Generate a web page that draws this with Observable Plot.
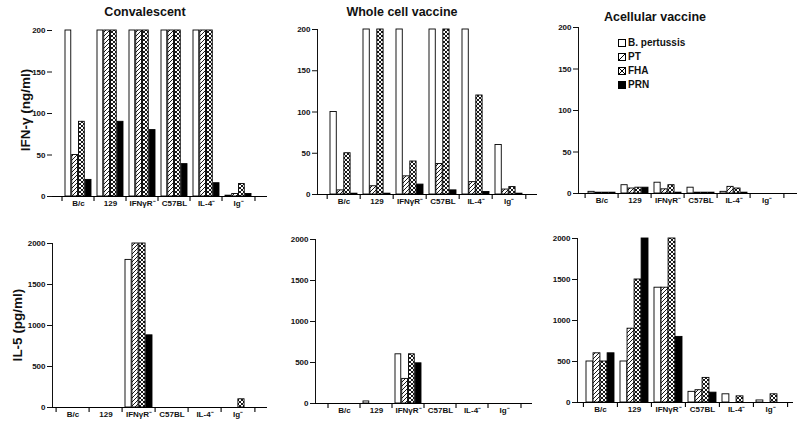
<!DOCTYPE html>
<html><head><meta charset="utf-8">
<script src="https://cdn.jsdelivr.net/npm/d3@7"></script>
<script src="https://cdn.jsdelivr.net/npm/@observablehq/plot@0.6"></script>
<style>
body{margin:0;background:#fff;width:800px;height:424px;position:relative;overflow:hidden;font-family:"Liberation Sans",Arial,sans-serif;color:#111;}
.panel{position:absolute;}
.title{position:absolute;font-weight:bold;font-size:12.5px;transform:translate(-50%,-50%);white-space:nowrap;}
.ylab{position:absolute;font-weight:bold;font-size:13.5px;transform:translate(-50%,-50%) rotate(-90deg);white-space:nowrap;}
.leg{position:absolute;font-weight:bold;font-size:10px;white-space:nowrap;display:flex;align-items:center;gap:2px;}
</style></head><body>
<svg width="0" height="0" style="position:absolute">
<defs>
<pattern id="hatch" patternUnits="userSpaceOnUse" width="4" height="4">
<rect width="4" height="4" fill="white"/>
<path d="M-1,1 L1,-1 M0,4 L4,0 M3,5 L5,3" stroke="black" stroke-width="0.9"/>
</pattern>
<pattern id="cross" patternUnits="userSpaceOnUse" width="4" height="4">
<rect width="4" height="4" fill="white"/>
<path d="M-1,1 L1,-1 M0,4 L4,0 M3,5 L5,3 M-1,3 L1,5 M0,0 L4,4 M3,-1 L5,1" stroke="black" stroke-width="0.9"/>
</pattern>
</defs></svg>
<script>
// ---- data ----
const categories = ["B/c", "129", "IFNγR⁻", "C57BL", "IL-4⁻", "Ig⁻"];
const series = ["B. pertussis", "PT", "FHA", "PRN"];
const panelTitles = ["Convalescent", "Whole cell vaccine", "Acellular vaccine"];
const rowLabels = ["IFN-γ (ng/ml)", "IL-5 (pg/ml)"];
const ifnTicks = [0, 50, 100, 150, 200];
const il5Ticks = [0, 500, 1000, 1500, 2000];
// rows = categories, columns = series (B. pertussis, PT, FHA, PRN)
const convalescentIFN = [[200, 50, 90, 20], [200, 200, 200, 90], [200, 200, 200, 80], [200, 200, 200, 39], [200, 200, 200, 16], [1, 3, 15, 3]];
const wholeCellIFN = [[100, 5, 50, 1], [200, 10, 200, 1], [200, 22, 40, 12], [200, 37, 200, 5], [200, 15, 120, 3], [60, 6, 9, 1]];
const acellularIFN = [[2, 1, 1, 1], [10, 6, 7, 7], [13, 5, 10, 1], [7, 1, 1, 1], [2, 8, 6, 1], [0, 0, 0, 0]];
const convalescentIL5 = [[0, 0, 0, 0], [0, 0, 0, 0], [1800, 2000, 2000, 880], [0, 0, 0, 0], [0, 0, 0, 0], [0, 0, 100, 0]];
const wholeCellIL5 = [[0, 0, 0, 0], [25, 0, 0, 0], [600, 300, 600, 490], [0, 0, 0, 0], [0, 0, 0, 0], [0, 0, 0, 0]];
const acellularIL5 = [[500, 600, 500, 600], [500, 900, 1500, 2000], [1400, 1400, 2000, 800], [130, 150, 300, 120], [100, 0, 75, 0], [25, 0, 100, 0]];

const fills = ["white", "url(#hatch)", "url(#cross)", "black"];

const panels = [
  {values: convalescentIFN, ticks: ifnTicks, left: 0, top: 0, width: 270, height: 210, mt: 30, mb: 14, ml: 52, mr: 3, po: 0.26, align: 0.45, yLine: false},
  {values: wholeCellIFN, ticks: ifnTicks, left: 270, top: 0, width: 270, height: 210, mt: 29, mb: 16, ml: 47, mr: 3, po: 0.27, align: 0.45, yLine: true},
  {values: acellularIFN, ticks: ifnTicks, left: 530, top: 0, width: 270, height: 210, mt: 27, mb: 17, ml: 48, mr: 3, po: 0.24, align: 0.31, yLine: true},
  {values: convalescentIL5, ticks: il5Ticks, left: 0, top: 210, width: 270, height: 214, mt: 33, mb: 17, ml: 52, mr: 3, po: 0.18, align: 0.25, yLine: true},
  {values: wholeCellIL5, ticks: il5Ticks, left: 270, top: 210, width: 270, height: 214, mt: 29, mb: 21, ml: 45, mr: 8, po: 0.29, align: 0.5, yLine: true},
  {values: acellularIL5, ticks: il5Ticks, left: 530, top: 210, width: 270, height: 214, mt: 28, mb: 22, ml: 47, mr: 7, po: 0.16, align: 0.5, yLine: true}
];

function makePanel(p) {
  const data = categories.flatMap((c, i) => series.map((s, j) => ({cat: c, series: s, j, value: p.values[i][j]})));
  const innerW = p.width - p.ml - p.mr;
  const innerH = p.height - p.mt - p.mb;
  const bw = innerW / (categories.length + 2 * p.po);
  const pad = 3;
  const barW = (bw - 2 * pad) / series.length;
  const yMax = p.ticks[p.ticks.length - 1];
  const tickDown = -5 * yMax / innerH; // 5px below the baseline, in y units
  const marks = series.map((s, j) => Plot.barY(data.filter(d => d.j === j && d.value > 0), {
    x: "cat", y: "value", fill: fills[j], stroke: "black", strokeWidth: 0.9,
    insetLeft: pad + j * barW, insetRight: bw - pad - (j + 1) * barW
  }));
  marks.push(Plot.ruleY([0], {stroke: "black", strokeWidth: 1.2}));
  marks.push(Plot.ruleX(categories, {x: d => d, dx: -bw / 2, y1: () => 0, y2: () => tickDown, stroke: "black", strokeWidth: 1.1}));
  marks.push(Plot.ruleX(categories.slice(-1), {x: d => d, dx: bw / 2, y1: () => 0, y2: () => tickDown, stroke: "black", strokeWidth: 1.1}));
  const chart = Plot.plot({
    width: p.width, height: p.height,
    marginTop: p.mt, marginBottom: p.mb, marginLeft: p.ml, marginRight: p.mr,
    style: {fontFamily: "'Liberation Sans', Arial, sans-serif", fontSize: "8px", fontWeight: "bold", background: "transparent", color: "#111", overflow: "visible"},
    x: {domain: categories, paddingInner: 0, paddingOuter: p.po, align: p.align, tickSize: 0, tickPadding: 4, label: null},
    y: {domain: [0, yMax], ticks: p.ticks, tickFormat: d => String(d), tickSize: 5, tickPadding: 2, label: null, line: p.yLine},
    marks
  });
  const div = document.createElement("div");
  div.className = "panel";
  div.style.left = p.left + "px";
  div.style.top = p.top + "px";
  div.appendChild(chart);
  document.body.appendChild(div);
}
panels.forEach(makePanel);

function addText(cls, text, x, y) {
  const d = document.createElement("div");
  d.className = cls;
  d.textContent = text;
  d.style.left = x + "px";
  d.style.top = y + "px";
  document.body.appendChild(d);
}
addText("title", panelTitles[0], 145, 12);
addText("title", panelTitles[1], 402, 12);
addText("title", panelTitles[2], 655, 17);
addText("ylab", rowLabels[0], 25, 110);
addText("ylab", rowLabels[1], 17, 325);

// legend
const swatches = [
  '<rect x="0.5" y="0.5" width="7" height="7" fill="white" stroke="black"/>',
  '<rect x="0.5" y="0.5" width="7" height="7" fill="white" stroke="black"/><path d="M0.5,7.5 L7.5,0.5" stroke="black"/>',
  '<rect x="0.5" y="0.5" width="7" height="7" fill="white" stroke="black"/><path d="M0.5,7.5 L7.5,0.5 M0.5,0.5 L7.5,7.5" stroke="black"/>',
  '<rect x="0.5" y="0.5" width="7" height="7" fill="black" stroke="black"/>'
];
series.forEach((s, j) => {
  const d = document.createElement("div");
  d.className = "leg";
  d.style.left = "618px";
  d.style.top = (37 + j * 14) + "px";
  d.innerHTML = '<svg width="8" height="8">' + swatches[j] + '</svg>';
  const t = document.createElement("span");
  t.textContent = s;
  d.appendChild(t);
  document.body.appendChild(d);
});
</script>
</body></html>
